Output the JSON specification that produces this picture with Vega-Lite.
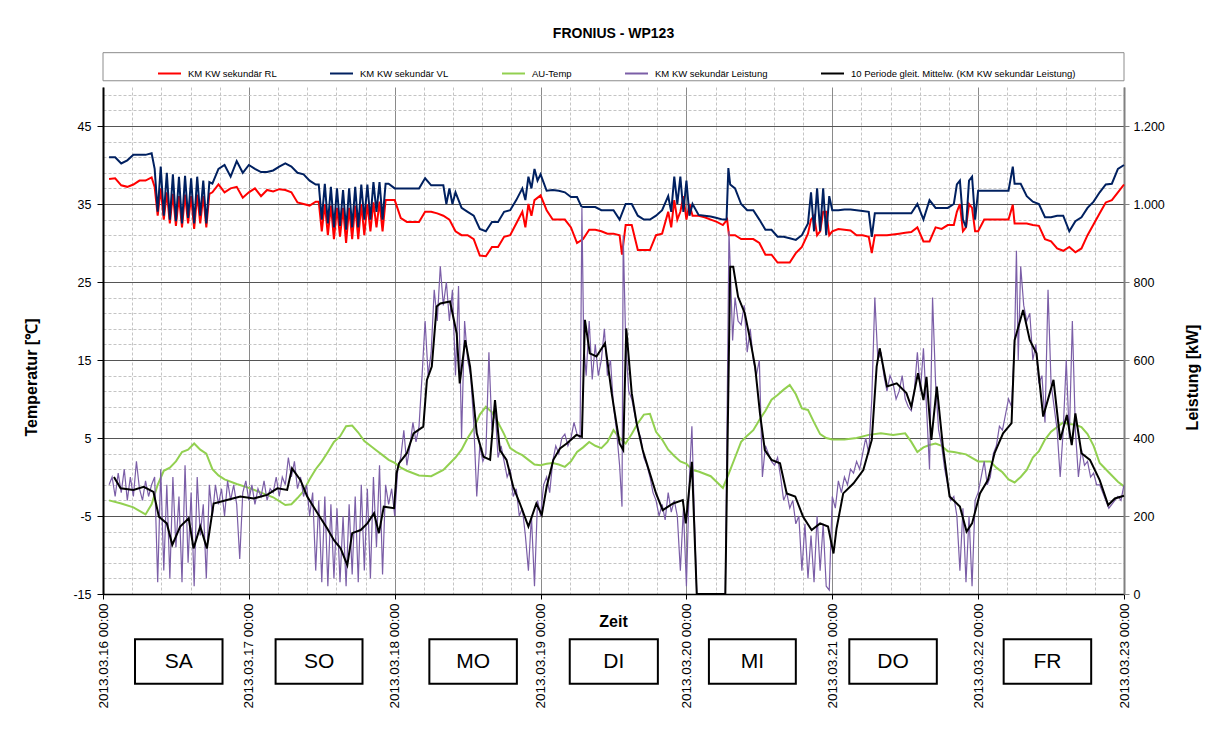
{
"$schema":"https://vega.github.io/schema/vega-lite/v6.json",
"width":1021,"height":507,
"autosize":{"type":"none"},
"padding":{"left":103,"top":87,"right":89,"bottom":135},
"background":"white",
"config":{"font":"Liberation Sans","view":{"stroke":null},
 "legend":{"orient":"none","legendX":54,"legendY":-26,"direction":"horizontal","title":null,"symbolType":"stroke","symbolStrokeWidth":2,"symbolSize":529,"labelOffset":6,"labelFontSize":9.5,"labelFont":"Liberation Sans","labelColor":"black","columnPadding":49,"padding":0,"labelLimit":500}},
"title":{"text":"FRONIUS - WP123","fontSize":14,"fontWeight":"bold","font":"Liberation Sans","color":"black","anchor":"middle","frame":"group","offset":11},
"datasets":{
"rl":[{"t":"2013-03-16T01:00","v":38.2},{"t":"2013-03-16T02:00","v":38.3},{"t":"2013-03-16T03:00","v":37.4},{"t":"2013-03-16T04:00","v":37.2},{"t":"2013-03-16T05:00","v":37.5},{"t":"2013-03-16T06:00","v":38.0},{"t":"2013-03-16T07:00","v":38.0},{"t":"2013-03-16T08:00","v":38.4},{"t":"2013-03-16T08:30","v":37.2},{"t":"2013-03-16T09:00","v":33.5},{"t":"2013-03-16T09:30","v":37.0},{"t":"2013-03-16T10:00","v":33.0},{"t":"2013-03-16T10:30","v":36.5},{"t":"2013-03-16T11:00","v":32.5},{"t":"2013-03-16T11:30","v":36.3},{"t":"2013-03-16T12:00","v":32.2},{"t":"2013-03-16T12:30","v":36.0},{"t":"2013-03-16T13:00","v":32.0},{"t":"2013-03-16T13:30","v":36.2},{"t":"2013-03-16T14:00","v":32.5},{"t":"2013-03-16T14:30","v":36.0},{"t":"2013-03-16T15:00","v":31.8},{"t":"2013-03-16T15:30","v":36.2},{"t":"2013-03-16T16:00","v":32.5},{"t":"2013-03-16T16:30","v":36.0},{"t":"2013-03-16T17:00","v":32.0},{"t":"2013-03-16T17:30","v":36.3},{"t":"2013-03-16T18:00","v":36.5},{"t":"2013-03-16T19:00","v":37.5},{"t":"2013-03-16T20:00","v":36.5},{"t":"2013-03-16T21:00","v":37.0},{"t":"2013-03-16T22:00","v":37.2},{"t":"2013-03-16T23:00","v":35.8},
{"t":"2013-03-17T00:00","v":36.5},{"t":"2013-03-17T01:00","v":37.0},{"t":"2013-03-17T02:00","v":36.0},{"t":"2013-03-17T03:00","v":36.8},{"t":"2013-03-17T04:00","v":36.6},{"t":"2013-03-17T05:00","v":36.9},{"t":"2013-03-17T06:00","v":36.8},{"t":"2013-03-17T07:00","v":36.5},{"t":"2013-03-17T08:00","v":35.2},{"t":"2013-03-17T09:00","v":35.0},{"t":"2013-03-17T10:00","v":34.8},{"t":"2013-03-17T11:00","v":35.3},{"t":"2013-03-17T11:30","v":35.3},{"t":"2013-03-17T12:00","v":31.5},{"t":"2013-03-17T12:30","v":35.0},{"t":"2013-03-17T13:00","v":31.0},{"t":"2013-03-17T13:30","v":34.8},{"t":"2013-03-17T14:00","v":30.5},{"t":"2013-03-17T14:30","v":34.5},{"t":"2013-03-17T15:00","v":30.8},{"t":"2013-03-17T15:30","v":34.5},{"t":"2013-03-17T16:00","v":30.0},{"t":"2013-03-17T16:30","v":34.5},{"t":"2013-03-17T17:00","v":30.5},{"t":"2013-03-17T17:30","v":34.8},{"t":"2013-03-17T18:00","v":30.5},{"t":"2013-03-17T18:30","v":35.0},{"t":"2013-03-17T19:00","v":31.0},{"t":"2013-03-17T19:30","v":35.0},{"t":"2013-03-17T20:00","v":31.5},{"t":"2013-03-17T20:30","v":35.2},{"t":"2013-03-17T21:00","v":32.0},{"t":"2013-03-17T21:30","v":35.3},{"t":"2013-03-17T22:00","v":31.5},{"t":"2013-03-17T22:30","v":35.5},{"t":"2013-03-17T23:00","v":35.5},
{"t":"2013-03-18T00:00","v":35.5},{"t":"2013-03-18T01:00","v":33.2},{"t":"2013-03-18T02:00","v":32.7},{"t":"2013-03-18T03:00","v":32.7},{"t":"2013-03-18T04:00","v":32.7},{"t":"2013-03-18T05:00","v":34.0},{"t":"2013-03-18T06:00","v":34.0},{"t":"2013-03-18T07:00","v":33.8},{"t":"2013-03-18T08:00","v":33.5},{"t":"2013-03-18T09:00","v":33.0},{"t":"2013-03-18T10:00","v":31.5},{"t":"2013-03-18T11:00","v":31.0},{"t":"2013-03-18T12:00","v":31.0},{"t":"2013-03-18T13:00","v":30.5},{"t":"2013-03-18T14:00","v":28.4},{"t":"2013-03-18T15:00","v":28.3},{"t":"2013-03-18T16:00","v":29.5},{"t":"2013-03-18T17:00","v":29.5},{"t":"2013-03-18T18:00","v":30.8},{"t":"2013-03-18T19:00","v":31.0},{"t":"2013-03-18T20:00","v":32.5},{"t":"2013-03-18T21:00","v":34.0},{"t":"2013-03-18T21:30","v":32.0},{"t":"2013-03-18T22:00","v":35.0},{"t":"2013-03-18T22:30","v":33.5},{"t":"2013-03-18T23:00","v":35.5},
{"t":"2013-03-19T00:00","v":36.1},{"t":"2013-03-19T01:00","v":34.2},{"t":"2013-03-19T02:00","v":33.0},{"t":"2013-03-19T03:00","v":33.0},{"t":"2013-03-19T04:00","v":33.0},{"t":"2013-03-19T05:00","v":32.0},{"t":"2013-03-19T06:00","v":30.0},{"t":"2013-03-19T07:00","v":30.5},{"t":"2013-03-19T08:00","v":31.7},{"t":"2013-03-19T09:00","v":31.7},{"t":"2013-03-19T10:00","v":31.5},{"t":"2013-03-19T11:00","v":31.2},{"t":"2013-03-19T12:00","v":31.2},{"t":"2013-03-19T13:00","v":31.0},{"t":"2013-03-19T13:24","v":28.5},{"t":"2013-03-19T14:00","v":32.3},{"t":"2013-03-19T15:00","v":32.3},{"t":"2013-03-19T16:00","v":29.1},{"t":"2013-03-19T17:00","v":29.1},{"t":"2013-03-19T18:00","v":29.1},{"t":"2013-03-19T19:00","v":31.0},{"t":"2013-03-19T20:00","v":31.2},{"t":"2013-03-19T21:00","v":34.0},{"t":"2013-03-19T21:30","v":32.0},{"t":"2013-03-19T22:00","v":35.5},{"t":"2013-03-19T22:30","v":33.0},{"t":"2013-03-19T23:00","v":34.0},{"t":"2013-03-19T23:30","v":36.0},
{"t":"2013-03-20T00:00","v":33.0},{"t":"2013-03-20T00:30","v":35.0},{"t":"2013-03-20T01:00","v":33.5},{"t":"2013-03-20T02:00","v":33.5},{"t":"2013-03-20T03:00","v":33.3},{"t":"2013-03-20T04:00","v":33.0},{"t":"2013-03-20T05:00","v":32.7},{"t":"2013-03-20T06:00","v":32.3},{"t":"2013-03-20T06:42","v":33.0},{"t":"2013-03-20T07:00","v":31.0},{"t":"2013-03-20T08:00","v":31.0},{"t":"2013-03-20T09:00","v":30.5},{"t":"2013-03-20T10:00","v":30.5},{"t":"2013-03-20T11:00","v":30.5},{"t":"2013-03-20T12:00","v":30.0},{"t":"2013-03-20T13:00","v":28.5},{"t":"2013-03-20T14:00","v":28.5},{"t":"2013-03-20T15:00","v":27.5},{"t":"2013-03-20T16:00","v":27.5},{"t":"2013-03-20T17:00","v":27.5},{"t":"2013-03-20T18:00","v":28.7},{"t":"2013-03-20T19:00","v":29.5},{"t":"2013-03-20T20:00","v":31.2},{"t":"2013-03-20T20:30","v":33.0},{"t":"2013-03-20T21:00","v":33.5},{"t":"2013-03-20T21:30","v":31.0},{"t":"2013-03-20T22:00","v":31.5},{"t":"2013-03-20T22:30","v":34.0},{"t":"2013-03-20T23:00","v":34.0},{"t":"2013-03-20T23:30","v":31.0},
{"t":"2013-03-21T00:00","v":31.5},{"t":"2013-03-21T01:00","v":31.8},{"t":"2013-03-21T02:00","v":31.7},{"t":"2013-03-21T03:00","v":31.6},{"t":"2013-03-21T04:00","v":31.0},{"t":"2013-03-21T05:00","v":31.0},{"t":"2013-03-21T06:00","v":30.8},{"t":"2013-03-21T06:30","v":28.7},{"t":"2013-03-21T07:00","v":31.0},{"t":"2013-03-21T08:00","v":31.0},{"t":"2013-03-21T09:00","v":31.0},{"t":"2013-03-21T10:00","v":31.1},{"t":"2013-03-21T11:00","v":31.2},{"t":"2013-03-21T12:00","v":31.3},{"t":"2013-03-21T13:00","v":31.4},{"t":"2013-03-21T14:00","v":32.0},{"t":"2013-03-21T15:00","v":30.2},{"t":"2013-03-21T16:00","v":30.2},{"t":"2013-03-21T17:00","v":32.0},{"t":"2013-03-21T18:00","v":31.8},{"t":"2013-03-21T19:00","v":32.3},{"t":"2013-03-21T20:00","v":32.3},{"t":"2013-03-21T20:30","v":34.0},{"t":"2013-03-21T21:00","v":35.0},{"t":"2013-03-21T21:30","v":31.5},{"t":"2013-03-21T22:00","v":32.0},{"t":"2013-03-21T22:30","v":35.0},{"t":"2013-03-21T23:00","v":34.5},{"t":"2013-03-21T23:30","v":31.5},
{"t":"2013-03-22T00:00","v":31.5},{"t":"2013-03-22T01:00","v":33.0},{"t":"2013-03-22T02:00","v":33.0},{"t":"2013-03-22T03:00","v":33.0},{"t":"2013-03-22T04:00","v":33.0},{"t":"2013-03-22T05:00","v":33.0},{"t":"2013-03-22T05:42","v":34.9},{"t":"2013-03-22T06:00","v":32.5},{"t":"2013-03-22T07:00","v":32.5},{"t":"2013-03-22T08:00","v":32.5},{"t":"2013-03-22T09:00","v":32.3},{"t":"2013-03-22T10:00","v":32.2},{"t":"2013-03-22T11:00","v":30.5},{"t":"2013-03-22T12:00","v":30.2},{"t":"2013-03-22T13:00","v":29.3},{"t":"2013-03-22T14:00","v":29.0},{"t":"2013-03-22T15:00","v":29.5},{"t":"2013-03-22T16:00","v":28.8},{"t":"2013-03-22T17:00","v":29.3},{"t":"2013-03-22T18:00","v":31.0},{"t":"2013-03-22T19:00","v":32.4},{"t":"2013-03-22T20:00","v":33.8},{"t":"2013-03-22T21:00","v":35.2},{"t":"2013-03-22T22:00","v":35.5},{"t":"2013-03-22T23:00","v":36.5},{"t":"2013-03-23T00:00","v":37.5}],
"vl":[{"t":"2013-03-16T01:00","v":41.0},{"t":"2013-03-16T02:00","v":41.0},{"t":"2013-03-16T03:00","v":40.2},{"t":"2013-03-16T04:00","v":40.6},{"t":"2013-03-16T05:00","v":41.3},{"t":"2013-03-16T06:00","v":41.3},{"t":"2013-03-16T07:00","v":41.3},{"t":"2013-03-16T08:00","v":41.5},{"t":"2013-03-16T08:30","v":39.5},{"t":"2013-03-16T09:00","v":34.0},{"t":"2013-03-16T09:30","v":39.8},{"t":"2013-03-16T10:00","v":33.5},{"t":"2013-03-16T10:30","v":39.0},{"t":"2013-03-16T11:00","v":33.0},{"t":"2013-03-16T11:30","v":38.8},{"t":"2013-03-16T12:00","v":32.8},{"t":"2013-03-16T12:30","v":38.5},{"t":"2013-03-16T13:00","v":32.5},{"t":"2013-03-16T13:30","v":38.6},{"t":"2013-03-16T14:00","v":33.2},{"t":"2013-03-16T14:30","v":38.3},{"t":"2013-03-16T15:00","v":32.5},{"t":"2013-03-16T15:30","v":38.5},{"t":"2013-03-16T16:00","v":33.5},{"t":"2013-03-16T16:30","v":38.0},{"t":"2013-03-16T17:00","v":32.5},{"t":"2013-03-16T17:30","v":37.8},{"t":"2013-03-16T18:00","v":37.6},{"t":"2013-03-16T19:00","v":39.5},{"t":"2013-03-16T20:00","v":40.0},{"t":"2013-03-16T21:00","v":38.5},{"t":"2013-03-16T22:00","v":40.5},{"t":"2013-03-16T23:00","v":39.0},
{"t":"2013-03-17T00:00","v":40.0},{"t":"2013-03-17T01:00","v":39.5},{"t":"2013-03-17T02:00","v":39.1},{"t":"2013-03-17T03:00","v":39.1},{"t":"2013-03-17T04:00","v":39.3},{"t":"2013-03-17T05:00","v":39.8},{"t":"2013-03-17T06:00","v":40.2},{"t":"2013-03-17T07:00","v":39.8},{"t":"2013-03-17T08:00","v":39.0},{"t":"2013-03-17T09:00","v":38.8},{"t":"2013-03-17T10:00","v":38.0},{"t":"2013-03-17T11:00","v":37.5},{"t":"2013-03-17T11:30","v":37.5},{"t":"2013-03-17T12:00","v":33.0},{"t":"2013-03-17T12:30","v":37.6},{"t":"2013-03-17T13:00","v":32.5},{"t":"2013-03-17T13:30","v":37.2},{"t":"2013-03-17T14:00","v":32.0},{"t":"2013-03-17T14:30","v":37.0},{"t":"2013-03-17T15:00","v":32.2},{"t":"2013-03-17T15:30","v":36.8},{"t":"2013-03-17T16:00","v":31.7},{"t":"2013-03-17T16:30","v":37.0},{"t":"2013-03-17T17:00","v":32.0},{"t":"2013-03-17T17:30","v":37.2},{"t":"2013-03-17T18:00","v":32.0},{"t":"2013-03-17T18:30","v":37.5},{"t":"2013-03-17T19:00","v":33.0},{"t":"2013-03-17T19:30","v":37.5},{"t":"2013-03-17T20:00","v":33.0},{"t":"2013-03-17T20:30","v":37.8},{"t":"2013-03-17T21:00","v":34.0},{"t":"2013-03-17T21:30","v":37.8},{"t":"2013-03-17T22:00","v":33.0},{"t":"2013-03-17T22:30","v":37.6},{"t":"2013-03-17T23:00","v":37.6},
{"t":"2013-03-18T00:00","v":37.0},{"t":"2013-03-18T01:00","v":37.0},{"t":"2013-03-18T02:00","v":37.0},{"t":"2013-03-18T03:00","v":37.0},{"t":"2013-03-18T04:00","v":37.0},{"t":"2013-03-18T05:00","v":38.3},{"t":"2013-03-18T06:00","v":37.4},{"t":"2013-03-18T07:00","v":37.4},{"t":"2013-03-18T08:00","v":37.4},{"t":"2013-03-18T08:30","v":35.0},{"t":"2013-03-18T09:00","v":37.0},{"t":"2013-03-18T09:30","v":35.0},{"t":"2013-03-18T10:00","v":36.5},{"t":"2013-03-18T11:00","v":34.5},{"t":"2013-03-18T12:00","v":34.0},{"t":"2013-03-18T13:00","v":33.5},{"t":"2013-03-18T14:00","v":31.8},{"t":"2013-03-18T15:00","v":31.5},{"t":"2013-03-18T16:00","v":32.7},{"t":"2013-03-18T17:00","v":32.7},{"t":"2013-03-18T18:00","v":34.0},{"t":"2013-03-18T19:00","v":34.2},{"t":"2013-03-18T20:00","v":35.5},{"t":"2013-03-18T21:00","v":37.0},{"t":"2013-03-18T21:30","v":35.5},{"t":"2013-03-18T22:00","v":38.5},{"t":"2013-03-18T22:30","v":37.0},{"t":"2013-03-18T23:00","v":39.5},{"t":"2013-03-18T23:30","v":38.0},
{"t":"2013-03-19T00:00","v":38.8},{"t":"2013-03-19T01:00","v":36.7},{"t":"2013-03-19T02:00","v":36.8},{"t":"2013-03-19T03:00","v":36.7},{"t":"2013-03-19T04:00","v":36.5},{"t":"2013-03-19T05:00","v":35.9},{"t":"2013-03-19T06:00","v":35.9},{"t":"2013-03-19T06:42","v":34.7},{"t":"2013-03-19T07:00","v":34.6},{"t":"2013-03-19T08:00","v":34.6},{"t":"2013-03-19T09:00","v":34.6},{"t":"2013-03-19T10:00","v":34.2},{"t":"2013-03-19T11:00","v":34.2},{"t":"2013-03-19T12:00","v":34.2},{"t":"2013-03-19T13:00","v":33.0},{"t":"2013-03-19T14:00","v":35.0},{"t":"2013-03-19T15:00","v":35.0},{"t":"2013-03-19T16:00","v":33.5},{"t":"2013-03-19T17:00","v":33.0},{"t":"2013-03-19T18:00","v":33.0},{"t":"2013-03-19T19:00","v":33.5},{"t":"2013-03-19T20:00","v":34.2},{"t":"2013-03-19T21:00","v":36.0},{"t":"2013-03-19T21:30","v":34.0},{"t":"2013-03-19T22:00","v":38.5},{"t":"2013-03-19T22:30","v":35.0},{"t":"2013-03-19T23:00","v":38.5},{"t":"2013-03-19T23:30","v":34.0},
{"t":"2013-03-20T00:00","v":38.0},{"t":"2013-03-20T00:30","v":33.5},{"t":"2013-03-20T01:00","v":35.0},{"t":"2013-03-20T02:00","v":33.6},{"t":"2013-03-20T03:00","v":33.5},{"t":"2013-03-20T04:00","v":33.4},{"t":"2013-03-20T05:00","v":33.2},{"t":"2013-03-20T06:00","v":33.0},{"t":"2013-03-20T06:36","v":33.0},{"t":"2013-03-20T06:54","v":39.6},{"t":"2013-03-20T07:12","v":37.5},{"t":"2013-03-20T08:00","v":37.0},{"t":"2013-03-20T09:00","v":35.0},{"t":"2013-03-20T10:00","v":34.2},{"t":"2013-03-20T11:00","v":34.2},{"t":"2013-03-20T12:00","v":33.0},{"t":"2013-03-20T13:00","v":31.7},{"t":"2013-03-20T14:00","v":31.7},{"t":"2013-03-20T15:00","v":30.8},{"t":"2013-03-20T16:00","v":30.8},{"t":"2013-03-20T17:00","v":30.6},{"t":"2013-03-20T18:00","v":30.4},{"t":"2013-03-20T19:00","v":31.0},{"t":"2013-03-20T20:00","v":32.5},{"t":"2013-03-20T20:30","v":36.5},{"t":"2013-03-20T21:00","v":31.5},{"t":"2013-03-20T21:30","v":37.0},{"t":"2013-03-20T22:00","v":31.5},{"t":"2013-03-20T22:30","v":37.0},{"t":"2013-03-20T23:00","v":31.0},{"t":"2013-03-20T23:30","v":36.0},
{"t":"2013-03-21T00:00","v":34.2},{"t":"2013-03-21T01:00","v":34.2},{"t":"2013-03-21T02:00","v":34.3},{"t":"2013-03-21T03:00","v":34.3},{"t":"2013-03-21T04:00","v":34.2},{"t":"2013-03-21T05:00","v":34.1},{"t":"2013-03-21T06:00","v":34.0},{"t":"2013-03-21T06:30","v":30.8},{"t":"2013-03-21T07:00","v":33.8},{"t":"2013-03-21T08:00","v":33.8},{"t":"2013-03-21T09:00","v":33.8},{"t":"2013-03-21T10:00","v":33.8},{"t":"2013-03-21T11:00","v":33.8},{"t":"2013-03-21T12:00","v":33.8},{"t":"2013-03-21T13:00","v":33.8},{"t":"2013-03-21T14:00","v":35.0},{"t":"2013-03-21T15:00","v":33.0},{"t":"2013-03-21T16:00","v":35.5},{"t":"2013-03-21T17:00","v":34.5},{"t":"2013-03-21T18:00","v":34.5},{"t":"2013-03-21T19:00","v":34.5},{"t":"2013-03-21T20:00","v":35.0},{"t":"2013-03-21T20:30","v":37.5},{"t":"2013-03-21T21:00","v":38.0},{"t":"2013-03-21T21:30","v":33.0},{"t":"2013-03-21T22:00","v":32.0},{"t":"2013-03-21T22:30","v":38.0},{"t":"2013-03-21T23:00","v":38.5},{"t":"2013-03-21T23:30","v":33.0},
{"t":"2013-03-22T00:00","v":36.7},{"t":"2013-03-22T01:00","v":36.7},{"t":"2013-03-22T02:00","v":36.7},{"t":"2013-03-22T03:00","v":36.7},{"t":"2013-03-22T04:00","v":36.7},{"t":"2013-03-22T05:00","v":36.7},{"t":"2013-03-22T05:42","v":39.8},{"t":"2013-03-22T06:00","v":37.6},{"t":"2013-03-22T07:00","v":37.6},{"t":"2013-03-22T08:00","v":36.0},{"t":"2013-03-22T09:00","v":35.3},{"t":"2013-03-22T10:00","v":35.0},{"t":"2013-03-22T11:00","v":33.3},{"t":"2013-03-22T12:00","v":33.3},{"t":"2013-03-22T13:00","v":33.5},{"t":"2013-03-22T14:00","v":33.5},{"t":"2013-03-22T15:00","v":31.5},{"t":"2013-03-22T16:00","v":32.8},{"t":"2013-03-22T17:00","v":33.3},{"t":"2013-03-22T18:00","v":34.5},{"t":"2013-03-22T19:00","v":35.3},{"t":"2013-03-22T20:00","v":36.5},{"t":"2013-03-22T21:00","v":37.5},{"t":"2013-03-22T22:00","v":37.6},{"t":"2013-03-22T23:00","v":39.5},{"t":"2013-03-23T00:00","v":40.0}],
"au":[{"t":"2013-03-16T01:00","v":-3.0},{"t":"2013-03-16T03:00","v":-3.4},{"t":"2013-03-16T05:00","v":-3.9},{"t":"2013-03-16T07:00","v":-4.8},{"t":"2013-03-16T08:00","v":-3.5},{"t":"2013-03-16T09:00","v":-1.0},{"t":"2013-03-16T10:00","v":0.8},{"t":"2013-03-16T11:00","v":1.2},{"t":"2013-03-16T12:00","v":2.0},{"t":"2013-03-16T13:00","v":3.2},{"t":"2013-03-16T14:00","v":3.5},{"t":"2013-03-16T15:00","v":4.3},{"t":"2013-03-16T16:00","v":3.5},{"t":"2013-03-16T17:00","v":3.0},{"t":"2013-03-16T18:00","v":1.0},{"t":"2013-03-16T19:00","v":0.2},{"t":"2013-03-16T20:00","v":-0.3},{"t":"2013-03-16T22:00","v":-0.9},
{"t":"2013-03-17T00:00","v":-1.4},{"t":"2013-03-17T02:00","v":-2.0},{"t":"2013-03-17T04:00","v":-2.6},{"t":"2013-03-17T06:00","v":-3.6},{"t":"2013-03-17T07:00","v":-3.5},{"t":"2013-03-17T08:00","v":-2.7},{"t":"2013-03-17T09:00","v":-1.8},{"t":"2013-03-17T10:00","v":-0.3},{"t":"2013-03-17T11:00","v":1.0},{"t":"2013-03-17T12:00","v":2.0},{"t":"2013-03-17T13:00","v":3.2},{"t":"2013-03-17T14:00","v":4.5},{"t":"2013-03-17T15:00","v":5.2},{"t":"2013-03-17T16:00","v":6.5},{"t":"2013-03-17T17:00","v":6.6},{"t":"2013-03-17T18:00","v":5.7},{"t":"2013-03-17T19:00","v":4.6},{"t":"2013-03-17T20:00","v":4.0},{"t":"2013-03-17T21:00","v":3.4},{"t":"2013-03-17T22:00","v":2.8},{"t":"2013-03-17T23:00","v":2.2},
{"t":"2013-03-18T00:00","v":1.8},{"t":"2013-03-18T01:00","v":1.2},{"t":"2013-03-18T02:00","v":0.8},{"t":"2013-03-18T04:00","v":0.2},{"t":"2013-03-18T06:00","v":0.1},{"t":"2013-03-18T08:00","v":0.9},{"t":"2013-03-18T10:00","v":2.5},{"t":"2013-03-18T11:00","v":3.5},{"t":"2013-03-18T12:00","v":5.0},{"t":"2013-03-18T13:00","v":6.2},{"t":"2013-03-18T14:00","v":8.0},{"t":"2013-03-18T15:00","v":9.0},{"t":"2013-03-18T16:00","v":8.3},{"t":"2013-03-18T17:00","v":7.0},{"t":"2013-03-18T18:00","v":5.5},{"t":"2013-03-18T19:00","v":3.7},{"t":"2013-03-18T20:00","v":3.2},{"t":"2013-03-18T21:00","v":2.8},{"t":"2013-03-18T22:00","v":2.2},{"t":"2013-03-18T23:00","v":1.6},
{"t":"2013-03-19T00:00","v":1.5},{"t":"2013-03-19T01:00","v":1.7},{"t":"2013-03-19T02:00","v":1.8},{"t":"2013-03-19T03:00","v":1.6},{"t":"2013-03-19T04:00","v":1.3},{"t":"2013-03-19T05:00","v":2.0},{"t":"2013-03-19T06:00","v":3.2},{"t":"2013-03-19T07:00","v":3.8},{"t":"2013-03-19T08:00","v":4.5},{"t":"2013-03-19T09:00","v":4.0},{"t":"2013-03-19T10:00","v":3.7},{"t":"2013-03-19T11:00","v":4.5},{"t":"2013-03-19T12:00","v":6.0},{"t":"2013-03-19T13:00","v":5.0},{"t":"2013-03-19T14:00","v":4.3},{"t":"2013-03-19T15:00","v":5.5},{"t":"2013-03-19T16:00","v":6.9},{"t":"2013-03-19T17:00","v":8.0},{"t":"2013-03-19T18:00","v":8.1},{"t":"2013-03-19T19:00","v":5.8},{"t":"2013-03-19T20:00","v":4.8},{"t":"2013-03-19T21:00","v":3.5},{"t":"2013-03-19T22:00","v":2.7},{"t":"2013-03-19T23:00","v":2.0},
{"t":"2013-03-20T00:00","v":1.7},{"t":"2013-03-20T01:00","v":0.9},{"t":"2013-03-20T02:00","v":0.7},{"t":"2013-03-20T04:00","v":0.1},{"t":"2013-03-20T06:00","v":-1.4},{"t":"2013-03-20T07:00","v":0.5},{"t":"2013-03-20T08:00","v":2.5},{"t":"2013-03-20T09:00","v":4.5},{"t":"2013-03-20T10:00","v":5.3},{"t":"2013-03-20T11:00","v":6.0},{"t":"2013-03-20T12:00","v":7.3},{"t":"2013-03-20T13:00","v":8.5},{"t":"2013-03-20T14:00","v":9.9},{"t":"2013-03-20T15:00","v":10.5},{"t":"2013-03-20T16:00","v":11.2},{"t":"2013-03-20T17:00","v":11.8},{"t":"2013-03-20T18:00","v":10.6},{"t":"2013-03-20T19:00","v":8.8},{"t":"2013-03-20T20:00","v":8.6},{"t":"2013-03-20T21:00","v":7.0},{"t":"2013-03-20T22:00","v":5.5},{"t":"2013-03-20T23:00","v":5.0},
{"t":"2013-03-21T00:00","v":4.8},{"t":"2013-03-21T02:00","v":4.8},{"t":"2013-03-21T04:00","v":5.0},{"t":"2013-03-21T06:00","v":5.4},{"t":"2013-03-21T08:00","v":5.6},{"t":"2013-03-21T10:00","v":5.4},{"t":"2013-03-21T12:00","v":5.6},{"t":"2013-03-21T13:00","v":4.5},{"t":"2013-03-21T14:00","v":3.2},{"t":"2013-03-21T15:00","v":3.8},{"t":"2013-03-21T16:00","v":4.1},{"t":"2013-03-21T17:00","v":4.3},{"t":"2013-03-21T18:00","v":4.0},{"t":"2013-03-21T19:00","v":3.3},{"t":"2013-03-21T20:00","v":3.2},{"t":"2013-03-21T22:00","v":2.9},
{"t":"2013-03-22T00:00","v":2.0},{"t":"2013-03-22T02:00","v":2.0},{"t":"2013-03-22T03:00","v":1.2},{"t":"2013-03-22T04:00","v":0.6},{"t":"2013-03-22T05:00","v":-0.3},{"t":"2013-03-22T06:00","v":-0.7},{"t":"2013-03-22T07:00","v":0.0},{"t":"2013-03-22T08:00","v":0.9},{"t":"2013-03-22T09:00","v":2.5},{"t":"2013-03-22T10:00","v":3.3},{"t":"2013-03-22T11:00","v":4.8},{"t":"2013-03-22T12:00","v":5.8},{"t":"2013-03-22T13:00","v":6.4},{"t":"2013-03-22T14:00","v":7.0},{"t":"2013-03-22T15:00","v":6.8},{"t":"2013-03-22T16:00","v":6.7},{"t":"2013-03-22T17:00","v":6.4},{"t":"2013-03-22T18:00","v":5.5},{"t":"2013-03-22T19:00","v":4.0},{"t":"2013-03-22T20:00","v":1.8},{"t":"2013-03-22T21:00","v":1.0},{"t":"2013-03-22T22:00","v":0.2},{"t":"2013-03-22T23:00","v":-0.6},{"t":"2013-03-23T00:00","v":-1.2}],
"p":[{"t":"2013-03-16T01:00","v":280},{"t":"2013-03-16T01:30","v":300},{"t":"2013-03-16T02:00","v":250},{"t":"2013-03-16T02:30","v":310},{"t":"2013-03-16T03:00","v":260},{"t":"2013-03-16T03:30","v":320},{"t":"2013-03-16T04:00","v":240},{"t":"2013-03-16T04:30","v":300},{"t":"2013-03-16T05:00","v":250},{"t":"2013-03-16T05:30","v":340},{"t":"2013-03-16T06:00","v":270},{"t":"2013-03-16T06:30","v":240},{"t":"2013-03-16T07:00","v":290},{"t":"2013-03-16T07:30","v":250},{"t":"2013-03-16T08:00","v":280},{"t":"2013-03-16T08:30","v":300},{"t":"2013-03-16T09:00","v":30},{"t":"2013-03-16T09:30","v":320},{"t":"2013-03-16T10:00","v":60},{"t":"2013-03-16T10:30","v":280},{"t":"2013-03-16T11:00","v":40},{"t":"2013-03-16T11:30","v":300},{"t":"2013-03-16T12:00","v":120},{"t":"2013-03-16T12:30","v":250},{"t":"2013-03-16T13:00","v":30},{"t":"2013-03-16T13:30","v":330},{"t":"2013-03-16T14:00","v":80},{"t":"2013-03-16T14:30","v":260},{"t":"2013-03-16T15:00","v":20},{"t":"2013-03-16T15:30","v":300},{"t":"2013-03-16T16:00","v":150},{"t":"2013-03-16T16:30","v":230},{"t":"2013-03-16T17:00","v":40},{"t":"2013-03-16T17:30","v":280},{"t":"2013-03-16T18:00","v":200},{"t":"2013-03-16T18:30","v":280},{"t":"2013-03-16T19:00","v":230},{"t":"2013-03-16T19:30","v":270},{"t":"2013-03-16T20:00","v":200},{"t":"2013-03-16T20:30","v":290},{"t":"2013-03-16T21:00","v":240},{"t":"2013-03-16T21:30","v":280},{"t":"2013-03-16T22:00","v":230},{"t":"2013-03-16T22:30","v":90},{"t":"2013-03-16T23:00","v":260},{"t":"2013-03-16T23:30","v":290},
{"t":"2013-03-17T00:00","v":240},{"t":"2013-03-17T00:30","v":280},{"t":"2013-03-17T01:00","v":230},{"t":"2013-03-17T01:30","v":270},{"t":"2013-03-17T02:00","v":250},{"t":"2013-03-17T02:30","v":290},{"t":"2013-03-17T03:00","v":240},{"t":"2013-03-17T03:30","v":270},{"t":"2013-03-17T04:00","v":260},{"t":"2013-03-17T04:30","v":300},{"t":"2013-03-17T05:00","v":250},{"t":"2013-03-17T05:30","v":300},{"t":"2013-03-17T06:00","v":280},{"t":"2013-03-17T06:30","v":350},{"t":"2013-03-17T07:00","v":300},{"t":"2013-03-17T07:30","v":340},{"t":"2013-03-17T08:00","v":270},{"t":"2013-03-17T08:30","v":300},{"t":"2013-03-17T09:00","v":250},{"t":"2013-03-17T09:30","v":280},{"t":"2013-03-17T10:00","v":200},{"t":"2013-03-17T10:30","v":260},{"t":"2013-03-17T11:00","v":60},{"t":"2013-03-17T11:30","v":240},{"t":"2013-03-17T12:00","v":30},{"t":"2013-03-17T12:30","v":250},{"t":"2013-03-17T13:00","v":20},{"t":"2013-03-17T13:30","v":230},{"t":"2013-03-17T14:00","v":40},{"t":"2013-03-17T14:30","v":220},{"t":"2013-03-17T15:00","v":30},{"t":"2013-03-17T15:30","v":200},{"t":"2013-03-17T16:00","v":20},{"t":"2013-03-17T16:30","v":230},{"t":"2013-03-17T17:00","v":50},{"t":"2013-03-17T17:30","v":250},{"t":"2013-03-17T18:00","v":30},{"t":"2013-03-17T18:30","v":280},{"t":"2013-03-17T19:00","v":60},{"t":"2013-03-17T19:30","v":270},{"t":"2013-03-17T20:00","v":40},{"t":"2013-03-17T20:30","v":300},{"t":"2013-03-17T21:00","v":120},{"t":"2013-03-17T21:30","v":330},{"t":"2013-03-17T22:00","v":50},{"t":"2013-03-17T22:30","v":280},{"t":"2013-03-17T23:00","v":230},{"t":"2013-03-17T23:30","v":270},
{"t":"2013-03-18T00:00","v":200},{"t":"2013-03-18T00:30","v":320},{"t":"2013-03-18T01:00","v":350},{"t":"2013-03-18T01:30","v":420},{"t":"2013-03-18T02:00","v":330},{"t":"2013-03-18T02:30","v":380},{"t":"2013-03-18T03:00","v":440},{"t":"2013-03-18T03:30","v":390},{"t":"2013-03-18T04:00","v":430},{"t":"2013-03-18T04:30","v":560},{"t":"2013-03-18T05:00","v":700},{"t":"2013-03-18T05:30","v":560},{"t":"2013-03-18T06:00","v":620},{"t":"2013-03-18T06:30","v":780},{"t":"2013-03-18T07:00","v":700},{"t":"2013-03-18T07:30","v":840},{"t":"2013-03-18T08:00","v":740},{"t":"2013-03-18T08:30","v":800},{"t":"2013-03-18T09:00","v":700},{"t":"2013-03-18T09:30","v":780},{"t":"2013-03-18T10:00","v":560},{"t":"2013-03-18T10:30","v":790},{"t":"2013-03-18T11:00","v":400},{"t":"2013-03-18T11:30","v":700},{"t":"2013-03-18T12:00","v":600},{"t":"2013-03-18T12:30","v":560},{"t":"2013-03-18T13:00","v":440},{"t":"2013-03-18T13:30","v":250},{"t":"2013-03-18T14:00","v":380},{"t":"2013-03-18T14:30","v":340},{"t":"2013-03-18T15:00","v":360},{"t":"2013-03-18T15:30","v":620},{"t":"2013-03-18T16:00","v":420},{"t":"2013-03-18T16:30","v":480},{"t":"2013-03-18T17:00","v":350},{"t":"2013-03-18T17:30","v":380},{"t":"2013-03-18T18:00","v":340},{"t":"2013-03-18T18:30","v":300},{"t":"2013-03-18T19:00","v":320},{"t":"2013-03-18T19:30","v":250},{"t":"2013-03-18T20:00","v":270},{"t":"2013-03-18T20:30","v":200},{"t":"2013-03-18T21:00","v":220},{"t":"2013-03-18T21:30","v":150},{"t":"2013-03-18T22:00","v":60},{"t":"2013-03-18T22:30","v":200},{"t":"2013-03-18T23:00","v":20},{"t":"2013-03-18T23:30","v":240},
{"t":"2013-03-19T00:00","v":200},{"t":"2013-03-19T00:30","v":280},{"t":"2013-03-19T01:00","v":300},{"t":"2013-03-19T01:30","v":260},{"t":"2013-03-19T02:00","v":340},{"t":"2013-03-19T02:30","v":380},{"t":"2013-03-19T03:00","v":360},{"t":"2013-03-19T03:30","v":400},{"t":"2013-03-19T04:00","v":410},{"t":"2013-03-19T04:30","v":380},{"t":"2013-03-19T05:00","v":400},{"t":"2013-03-19T05:30","v":440},{"t":"2013-03-19T06:00","v":410},{"t":"2013-03-19T06:30","v":400},{"t":"2013-03-19T06:48","v":990},{"t":"2013-03-19T07:06","v":640},{"t":"2013-03-19T07:30","v":560},{"t":"2013-03-19T08:00","v":700},{"t":"2013-03-19T08:30","v":550},{"t":"2013-03-19T09:00","v":640},{"t":"2013-03-19T09:30","v":560},{"t":"2013-03-19T10:00","v":600},{"t":"2013-03-19T10:30","v":680},{"t":"2013-03-19T11:00","v":560},{"t":"2013-03-19T11:30","v":600},{"t":"2013-03-19T12:00","v":480},{"t":"2013-03-19T12:30","v":420},{"t":"2013-03-19T13:00","v":330},{"t":"2013-03-19T13:24","v":224},{"t":"2013-03-19T13:36","v":920},{"t":"2013-03-19T14:00","v":650},{"t":"2013-03-19T14:30","v":520},{"t":"2013-03-19T15:00","v":500},{"t":"2013-03-19T15:30","v":460},{"t":"2013-03-19T16:00","v":420},{"t":"2013-03-19T16:30","v":400},{"t":"2013-03-19T17:00","v":350},{"t":"2013-03-19T17:30","v":330},{"t":"2013-03-19T18:00","v":300},{"t":"2013-03-19T18:30","v":260},{"t":"2013-03-19T19:00","v":240},{"t":"2013-03-19T19:30","v":200},{"t":"2013-03-19T20:00","v":230},{"t":"2013-03-19T20:30","v":190},{"t":"2013-03-19T21:00","v":260},{"t":"2013-03-19T21:30","v":210},{"t":"2013-03-19T22:00","v":240},{"t":"2013-03-19T22:30","v":200},{"t":"2013-03-19T23:00","v":60},{"t":"2013-03-19T23:30","v":220},
{"t":"2013-03-20T00:00","v":20},{"t":"2013-03-20T00:30","v":300},{"t":"2013-03-20T00:54","v":430},{"t":"2013-03-20T01:18","v":200},{"t":"2013-03-20T01:42","v":0},{"t":"2013-03-20T06:24","v":0},{"t":"2013-03-20T07:00","v":930},{"t":"2013-03-20T07:18","v":800},{"t":"2013-03-20T07:36","v":650},{"t":"2013-03-20T08:00","v":760},{"t":"2013-03-20T08:30","v":700},{"t":"2013-03-20T09:00","v":690},{"t":"2013-03-20T09:30","v":740},{"t":"2013-03-20T10:00","v":620},{"t":"2013-03-20T10:30","v":680},{"t":"2013-03-20T11:00","v":600},{"t":"2013-03-20T11:30","v":560},{"t":"2013-03-20T12:00","v":600},{"t":"2013-03-20T12:30","v":300},{"t":"2013-03-20T13:00","v":380},{"t":"2013-03-20T13:30","v":360},{"t":"2013-03-20T14:00","v":340},{"t":"2013-03-20T14:30","v":330},{"t":"2013-03-20T15:00","v":350},{"t":"2013-03-20T15:30","v":300},{"t":"2013-03-20T16:00","v":240},{"t":"2013-03-20T16:30","v":260},{"t":"2013-03-20T17:00","v":220},{"t":"2013-03-20T17:30","v":240},{"t":"2013-03-20T18:00","v":180},{"t":"2013-03-20T18:30","v":200},{"t":"2013-03-20T19:00","v":60},{"t":"2013-03-20T19:30","v":180},{"t":"2013-03-20T20:00","v":40},{"t":"2013-03-20T20:30","v":150},{"t":"2013-03-20T21:00","v":30},{"t":"2013-03-20T21:30","v":200},{"t":"2013-03-20T22:00","v":60},{"t":"2013-03-20T22:30","v":180},{"t":"2013-03-20T23:00","v":20},{"t":"2013-03-20T23:30","v":10},
{"t":"2013-03-21T00:00","v":250},{"t":"2013-03-21T00:30","v":220},{"t":"2013-03-21T01:00","v":290},{"t":"2013-03-21T01:30","v":260},{"t":"2013-03-21T02:00","v":300},{"t":"2013-03-21T02:30","v":280},{"t":"2013-03-21T03:00","v":320},{"t":"2013-03-21T03:30","v":310},{"t":"2013-03-21T04:00","v":340},{"t":"2013-03-21T04:30","v":320},{"t":"2013-03-21T05:00","v":360},{"t":"2013-03-21T05:30","v":400},{"t":"2013-03-21T06:00","v":360},{"t":"2013-03-21T06:30","v":500},{"t":"2013-03-21T07:00","v":760},{"t":"2013-03-21T07:30","v":600},{"t":"2013-03-21T08:00","v":620},{"t":"2013-03-21T08:30","v":560},{"t":"2013-03-21T09:00","v":520},{"t":"2013-03-21T09:30","v":560},{"t":"2013-03-21T10:00","v":540},{"t":"2013-03-21T10:30","v":500},{"t":"2013-03-21T11:00","v":520},{"t":"2013-03-21T11:30","v":560},{"t":"2013-03-21T12:00","v":500},{"t":"2013-03-21T12:30","v":480},{"t":"2013-03-21T13:00","v":470},{"t":"2013-03-21T13:30","v":520},{"t":"2013-03-21T14:00","v":620},{"t":"2013-03-21T14:30","v":520},{"t":"2013-03-21T15:00","v":630},{"t":"2013-03-21T15:30","v":480},{"t":"2013-03-21T16:00","v":320},{"t":"2013-03-21T16:30","v":760},{"t":"2013-03-21T17:00","v":540},{"t":"2013-03-21T17:30","v":420},{"t":"2013-03-21T18:00","v":380},{"t":"2013-03-21T18:30","v":320},{"t":"2013-03-21T19:00","v":280},{"t":"2013-03-21T19:30","v":240},{"t":"2013-03-21T20:00","v":250},{"t":"2013-03-21T20:30","v":200},{"t":"2013-03-21T21:00","v":60},{"t":"2013-03-21T21:30","v":220},{"t":"2013-03-21T22:00","v":30},{"t":"2013-03-21T22:30","v":200},{"t":"2013-03-21T23:00","v":20},{"t":"2013-03-21T23:30","v":240},
{"t":"2013-03-22T00:00","v":260},{"t":"2013-03-22T00:30","v":300},{"t":"2013-03-22T01:00","v":340},{"t":"2013-03-22T01:30","v":280},{"t":"2013-03-22T02:00","v":300},{"t":"2013-03-22T02:30","v":360},{"t":"2013-03-22T03:00","v":380},{"t":"2013-03-22T03:30","v":430},{"t":"2013-03-22T04:00","v":420},{"t":"2013-03-22T04:30","v":460},{"t":"2013-03-22T05:00","v":500},{"t":"2013-03-22T05:30","v":480},{"t":"2013-03-22T06:00","v":650},{"t":"2013-03-22T06:18","v":880},{"t":"2013-03-22T06:36","v":600},{"t":"2013-03-22T07:00","v":840},{"t":"2013-03-22T07:30","v":740},{"t":"2013-03-22T08:00","v":700},{"t":"2013-03-22T08:30","v":720},{"t":"2013-03-22T09:00","v":600},{"t":"2013-03-22T09:30","v":640},{"t":"2013-03-22T10:00","v":540},{"t":"2013-03-22T10:30","v":560},{"t":"2013-03-22T11:00","v":440},{"t":"2013-03-22T11:30","v":780},{"t":"2013-03-22T12:00","v":540},{"t":"2013-03-22T12:30","v":480},{"t":"2013-03-22T13:00","v":420},{"t":"2013-03-22T13:30","v":300},{"t":"2013-03-22T14:00","v":420},{"t":"2013-03-22T14:30","v":600},{"t":"2013-03-22T15:00","v":400},{"t":"2013-03-22T15:30","v":700},{"t":"2013-03-22T16:00","v":420},{"t":"2013-03-22T16:30","v":300},{"t":"2013-03-22T17:00","v":370},{"t":"2013-03-22T17:30","v":330},{"t":"2013-03-22T18:00","v":340},{"t":"2013-03-22T18:30","v":300},{"t":"2013-03-22T19:00","v":310},{"t":"2013-03-22T19:30","v":280},{"t":"2013-03-22T20:00","v":280},{"t":"2013-03-22T20:30","v":260},{"t":"2013-03-22T21:00","v":240},{"t":"2013-03-22T21:30","v":220},{"t":"2013-03-22T22:00","v":230},{"t":"2013-03-22T22:30","v":240},{"t":"2013-03-22T23:00","v":250},{"t":"2013-03-22T23:30","v":240},{"t":"2013-03-23T00:00","v":280}],
"ma":[{"t":"2013-03-16T01:48","v":300},{"t":"2013-03-16T02:54","v":271},{"t":"2013-03-16T05:00","v":267},{"t":"2013-03-16T06:42","v":275},{"t":"2013-03-16T08:18","v":262},{"t":"2013-03-16T09:12","v":198},{"t":"2013-03-16T10:30","v":181},{"t":"2013-03-16T11:24","v":126},{"t":"2013-03-16T12:42","v":173},{"t":"2013-03-16T14:06","v":194},{"t":"2013-03-16T14:54","v":117},{"t":"2013-03-16T16:00","v":173},{"t":"2013-03-16T17:06","v":117},{"t":"2013-03-16T18:12","v":232},{"t":"2013-03-16T20:24","v":241},{"t":"2013-03-16T22:36","v":250},{"t":"2013-03-17T00:48","v":245},{"t":"2013-03-17T03:00","v":254},{"t":"2013-03-17T04:42","v":271},{"t":"2013-03-17T06:18","v":267},{"t":"2013-03-17T07:06","v":322},{"t":"2013-03-17T08:30","v":292},{"t":"2013-03-17T09:36","v":250},{"t":"2013-03-17T11:18","v":207},{"t":"2013-03-17T12:54","v":168},{"t":"2013-03-17T14:00","v":138},{"t":"2013-03-17T15:06","v":117},{"t":"2013-03-17T16:12","v":74},{"t":"2013-03-17T17:00","v":156},{"t":"2013-03-17T18:24","v":164},{"t":"2013-03-17T19:30","v":181},{"t":"2013-03-17T20:36","v":207},{"t":"2013-03-17T21:24","v":156},{"t":"2013-03-17T22:12","v":224},{"t":"2013-03-17T23:54","v":220},{"t":"2013-03-18T00:18","v":309},{"t":"2013-03-18T00:42","v":335},{"t":"2013-03-18T02:00","v":361},{"t":"2013-03-18T03:06","v":412},{"t":"2013-03-18T04:42","v":429},{"t":"2013-03-18T05:18","v":549},{"t":"2013-03-18T06:06","v":583},{"t":"2013-03-18T06:54","v":737},{"t":"2013-03-18T07:30","v":745},{"t":"2013-03-18T09:06","v":750},{"t":"2013-03-18T10:12","v":668},{"t":"2013-03-18T10:42","v":540},{"t":"2013-03-18T11:36","v":651},{"t":"2013-03-18T12:24","v":583},{"t":"2013-03-18T13:30","v":412},{"t":"2013-03-18T14:36","v":352},{"t":"2013-03-18T15:42","v":344},{"t":"2013-03-18T16:30","v":497},{"t":"2013-03-18T17:18","v":369},{"t":"2013-03-18T18:24","v":344},{"t":"2013-03-18T19:30","v":275},{"t":"2013-03-18T20:36","v":232},{"t":"2013-03-18T22:00","v":173},{"t":"2013-03-18T23:18","v":232},{"t":"2013-03-19T00:12","v":203},{"t":"2013-03-19T01:00","v":275},{"t":"2013-03-19T02:06","v":344},{"t":"2013-03-19T03:12","v":373},{"t":"2013-03-19T04:18","v":386},{"t":"2013-03-19T05:54","v":408},{"t":"2013-03-19T06:48","v":403},{"t":"2013-03-19T07:18","v":703},{"t":"2013-03-19T08:06","v":617},{"t":"2013-03-19T09:12","v":609},{"t":"2013-03-19T10:36","v":643},{"t":"2013-03-19T11:42","v":515},{"t":"2013-03-19T13:00","v":386},{"t":"2013-03-19T13:36","v":369},{"t":"2013-03-19T14:06","v":681},{"t":"2013-03-19T15:00","v":515},{"t":"2013-03-19T15:48","v":438},{"t":"2013-03-19T16:48","v":369},{"t":"2013-03-19T19:00","v":258},{"t":"2013-03-19T20:06","v":215},{"t":"2013-03-19T21:48","v":232},{"t":"2013-03-19T23:24","v":241},{"t":"2013-03-19T23:54","v":181},{"t":"2013-03-20T00:54","v":339},{"t":"2013-03-20T01:42","v":0},{"t":"2013-03-20T06:24","v":0},{"t":"2013-03-20T07:12","v":839},{"t":"2013-03-20T07:42","v":839},{"t":"2013-03-20T08:30","v":762},{"t":"2013-03-20T09:36","v":720},{"t":"2013-03-20T10:30","v":651},{"t":"2013-03-20T11:18","v":583},{"t":"2013-03-20T12:06","v":463},{"t":"2013-03-20T12:54","v":369},{"t":"2013-03-20T14:00","v":344},{"t":"2013-03-20T15:24","v":335},{"t":"2013-03-20T16:30","v":258},{"t":"2013-03-20T17:54","v":250},{"t":"2013-03-20T19:12","v":198},{"t":"2013-03-20T20:36","v":164},{"t":"2013-03-20T22:00","v":181},{"t":"2013-03-20T23:18","v":173},{"t":"2013-03-21T00:12","v":104},{"t":"2013-03-21T00:42","v":168},{"t":"2013-03-21T01:48","v":258},{"t":"2013-03-21T03:30","v":284},{"t":"2013-03-21T05:06","v":318},{"t":"2013-03-21T06:30","v":395},{"t":"2013-03-21T07:18","v":583},{"t":"2013-03-21T07:48","v":630},{"t":"2013-03-21T09:00","v":532},{"t":"2013-03-21T10:36","v":540},{"t":"2013-03-21T12:12","v":515},{"t":"2013-03-21T13:00","v":480},{"t":"2013-03-21T14:06","v":566},{"t":"2013-03-21T15:00","v":497},{"t":"2013-03-21T15:30","v":557},{"t":"2013-03-21T16:18","v":395},{"t":"2013-03-21T17:12","v":532},{"t":"2013-03-21T18:12","v":378},{"t":"2013-03-21T19:18","v":250},{"t":"2013-03-21T21:00","v":224},{"t":"2013-03-21T22:06","v":160},{"t":"2013-03-21T23:00","v":181},{"t":"2013-03-22T00:18","v":258},{"t":"2013-03-22T01:36","v":292},{"t":"2013-03-22T02:42","v":361},{"t":"2013-03-22T04:06","v":412},{"t":"2013-03-22T05:30","v":438},{"t":"2013-03-22T06:00","v":651},{"t":"2013-03-22T07:24","v":728},{"t":"2013-03-22T08:30","v":651},{"t":"2013-03-22T09:36","v":617},{"t":"2013-03-22T10:42","v":455},{"t":"2013-03-22T12:24","v":549},{"t":"2013-03-22T13:30","v":395},{"t":"2013-03-22T14:36","v":459},{"t":"2013-03-22T15:24","v":382},{"t":"2013-03-22T16:00","v":463},{"t":"2013-03-22T17:00","v":361},{"t":"2013-03-22T18:24","v":344},{"t":"2013-03-22T20:00","v":292},{"t":"2013-03-22T21:24","v":228},{"t":"2013-03-22T22:30","v":245},{"t":"2013-03-23T00:00","v":252}],
"days":[{"t":"2013-03-16T05:16","t2":"2013-03-16T19:40"},{"t":"2013-03-17T04:24","t2":"2013-03-17T18:42"},{"t":"2013-03-18T05:42","t2":"2013-03-18T20:06"},{"t":"2013-03-19T04:48","t2":"2013-03-19T19:18"},{"t":"2013-03-20T03:42","t2":"2013-03-20T18:00"},{"t":"2013-03-21T02:48","t2":"2013-03-21T17:12"},{"t":"2013-03-22T04:12","t2":"2013-03-22T18:36"}],
"dayl":[{"t":"2013-03-16T12:28","d":"SA"},{"t":"2013-03-17T11:33","d":"SO"},{"t":"2013-03-18T12:54","d":"MO"},{"t":"2013-03-19T12:03","d":"DI"},{"t":"2013-03-20T10:51","d":"MI"},{"t":"2013-03-21T10:00","d":"DO"},{"t":"2013-03-22T11:24","d":"FR"}],
"frame":[{"n":"legend"}]
},
"layer":[
 {"encoding":{
   "x":{"field":"t","type":"temporal","scale":{"domain":[{"year":2013,"month":3,"date":16},{"year":2013,"month":3,"date":23}],"nice":false},
    "axis":{"values":[{"year":2013,"month":3,"date":16,"hours":0},{"year":2013,"month":3,"date":16,"hours":4,"minutes":48},{"year":2013,"month":3,"date":16,"hours":9,"minutes":36},{"year":2013,"month":3,"date":16,"hours":14,"minutes":24},{"year":2013,"month":3,"date":16,"hours":19,"minutes":12},
    {"year":2013,"month":3,"date":17,"hours":0},{"year":2013,"month":3,"date":17,"hours":4,"minutes":48},{"year":2013,"month":3,"date":17,"hours":9,"minutes":36},{"year":2013,"month":3,"date":17,"hours":14,"minutes":24},{"year":2013,"month":3,"date":17,"hours":19,"minutes":12},
    {"year":2013,"month":3,"date":18,"hours":0},{"year":2013,"month":3,"date":18,"hours":4,"minutes":48},{"year":2013,"month":3,"date":18,"hours":9,"minutes":36},{"year":2013,"month":3,"date":18,"hours":14,"minutes":24},{"year":2013,"month":3,"date":18,"hours":19,"minutes":12},
    {"year":2013,"month":3,"date":19,"hours":0},{"year":2013,"month":3,"date":19,"hours":4,"minutes":48},{"year":2013,"month":3,"date":19,"hours":9,"minutes":36},{"year":2013,"month":3,"date":19,"hours":14,"minutes":24},{"year":2013,"month":3,"date":19,"hours":19,"minutes":12},
    {"year":2013,"month":3,"date":20,"hours":0},{"year":2013,"month":3,"date":20,"hours":4,"minutes":48},{"year":2013,"month":3,"date":20,"hours":9,"minutes":36},{"year":2013,"month":3,"date":20,"hours":14,"minutes":24},{"year":2013,"month":3,"date":20,"hours":19,"minutes":12},
    {"year":2013,"month":3,"date":21,"hours":0},{"year":2013,"month":3,"date":21,"hours":4,"minutes":48},{"year":2013,"month":3,"date":21,"hours":9,"minutes":36},{"year":2013,"month":3,"date":21,"hours":14,"minutes":24},{"year":2013,"month":3,"date":21,"hours":19,"minutes":12},
    {"year":2013,"month":3,"date":22,"hours":0},{"year":2013,"month":3,"date":22,"hours":4,"minutes":48},{"year":2013,"month":3,"date":22,"hours":9,"minutes":36},{"year":2013,"month":3,"date":22,"hours":14,"minutes":24},{"year":2013,"month":3,"date":22,"hours":19,"minutes":12},
    {"year":2013,"month":3,"date":23,"hours":0}],
    "labelExpr":"hours(datum.value)===0 && minutes(datum.value)===0 ? timeFormat(datum.value, '%Y.%m.%d %H:%M') : ''",
    "labelAngle":270,"labelFontSize":13.5,"labelFont":"Liberation Sans","labelColor":"black","labelPadding":4,"labelOverlap":false,"labelBound":false,"labelFlush":false,
    "tickColor":"black","tickSize":5,"tickOpacity":{"condition":{"test":"hours(datum.value)===0","value":1},"value":0},
    "domainColor":"black","domainWidth":1.5,
    "grid":true,"gridWidth":1,
    "gridColor":{"condition":{"test":"hours(datum.value)===0","value":"#8a8a8a"},"value":"#c4c4c4"},
    "gridDash":{"condition":{"test":"hours(datum.value)===0","value":[]},"value":[3,2]},
    "title":"Zeit","titleFont":"Liberation Sans","titleFontSize":16,"titleFontWeight":"bold","titleColor":"black","titleX":510,"titleY":27,"titleAlign":"center","titleBaseline":"middle","titleAngle":0}},
   "y":{"field":"v","type":"quantitative","scale":{"domain":[-15,50],"nice":false,"zero":false},
    "axis":{"values":[-15,-13,-11,-9,-7,-5,-3,-1,1,3,5,7,9,11,13,15,17,19,21,23,25,27,29,31,33,35,37,39,41,43,45,47,49],
     "labelExpr":"(datum.value+15)%10===0 ? ('' + datum.value) : ''","labelFontSize":12.5,"labelFont":"Liberation Sans","labelColor":"black","labelPadding":6,"labelOverlap":false,
     "tickColor":"black","tickSize":6,"tickOpacity":{"condition":{"test":"(datum.value+15)%10===0","value":1},"value":0},
     "domainColor":"black","domainWidth":2,
     "grid":true,"gridWidth":1,
     "gridColor":{"condition":{"test":"(datum.value+15)%10===0","value":"#555555"},"value":"#c4c4c4"},
     "gridDash":{"condition":{"test":"(datum.value+15)%10===0","value":[]},"value":[3,2]},
     "title":"Temperatur [℃]","titleFont":"Liberation Sans","titleFontSize":16,"titleFontWeight":"bold","titleColor":"black","titleAngle":270,"titleX":-72,"titleY":290,"titleAlign":"center","titleBaseline":"middle"}}},
  "layer":[
   {"data":{"name":"rl"},"mark":{"type":"line","strokeWidth":2},"encoding":{"color":{"datum":"KM KW sekundär RL","type":"nominal","scale":{"domain":["KM KW sekundär RL","KM KW sekundär VL","AU-Temp","KM KW sekundär Leistung","10 Periode gleit. Mittelw. (KM KW sekundär Leistung)"],"range":["#ff0000","#002060","#92d050","#7b5ea7","#000000"]}}}},
   {"data":{"name":"vl"},"mark":{"type":"line","strokeWidth":2},"encoding":{"color":{"datum":"KM KW sekundär VL","type":"nominal"}}},
   {"data":{"name":"au"},"mark":{"type":"line","strokeWidth":2},"encoding":{"color":{"datum":"AU-Temp","type":"nominal"}}}
  ]},
 {"encoding":{
   "x":{"field":"t","type":"temporal","scale":{"domain":[{"year":2013,"month":3,"date":16},{"year":2013,"month":3,"date":23}],"nice":false},"axis":null},
   "y":{"field":"v","type":"quantitative","scale":{"domain":[0,1300],"nice":false},
    "axis":{"orient":"right","values":[0,200,400,600,800,1000,1200],"labelExpr":"replace(format(datum.value, ','), ',', '.')","labelFontSize":12.5,"labelFont":"Liberation Sans","labelColor":"black","labelPadding":4,
     "grid":false,"domainColor":"#808080","domainWidth":2,"tickColor":"#808080","tickSize":5,
     "title":"Leistung [kW]","titleFont":"Liberation Sans","titleFontSize":16,"titleFontWeight":"bold","titleColor":"black","titleAngle":270,"titleX":68,"titleY":290,"titleAlign":"center","titleBaseline":"middle"}}},
  "layer":[
   {"data":{"name":"p"},"mark":{"type":"line","strokeWidth":1.2},"encoding":{"color":{"datum":"KM KW sekundär Leistung","type":"nominal"}}},
   {"data":{"name":"ma"},"mark":{"type":"line","strokeWidth":2},"encoding":{"color":{"datum":"10 Periode gleit. Mittelw. (KM KW sekundär Leistung)","type":"nominal"}}}
  ]},
 {"layer":[
   {"data":{"name":"days"},"mark":{"type":"rect","fill":"white","stroke":"black","strokeWidth":2,"clip":false},"encoding":{"x":{"field":"t","type":"temporal","scale":{"domain":[{"year":2013,"month":3,"date":16},{"year":2013,"month":3,"date":23}],"nice":false},"axis":null},"x2":{"field":"t2"},"y":{"datum":-20.8,"type":"quantitative","scale":{"domain":[-15,50],"nice":false,"zero":false},"axis":null},"y2":{"datum":-26.5}}},
   {"data":{"name":"dayl"},"mark":{"type":"text","fontSize":21,"font":"Liberation Sans","color":"black","baseline":"middle","align":"center","clip":false},"encoding":{"x":{"field":"t","type":"temporal","axis":null},"text":{"field":"d"},"y":{"datum":-23.7,"type":"quantitative","axis":null}}},
   {"data":{"name":"frame"},"mark":{"type":"rect","filled":false,"stroke":"#8c8c8c","strokeWidth":1,"clip":false},"encoding":{"x":{"datum":{"year":2013,"month":3,"date":16},"type":"temporal","axis":null},"x2":{"datum":{"year":2013,"month":3,"date":23}},"y":{"datum":54.4,"type":"quantitative","axis":null},"y2":{"datum":50.8}}}
  ]}
],
"resolve":{"scale":{"x":"independent","y":"independent"}}
}
